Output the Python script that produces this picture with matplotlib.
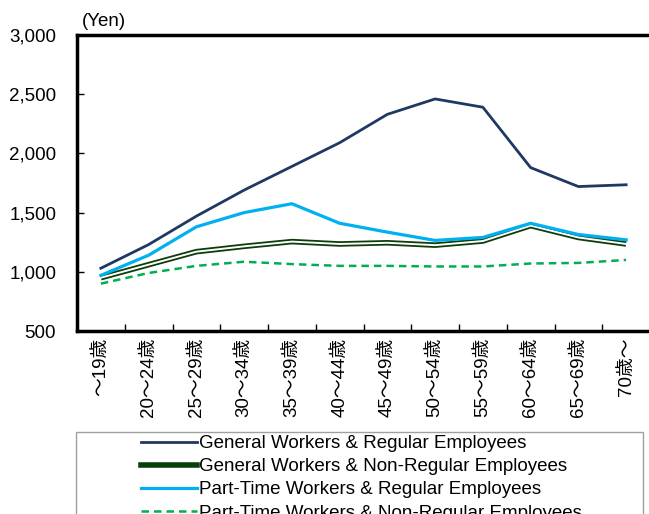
import matplotlib
matplotlib.use("Agg")
import matplotlib.pyplot as plt
from matplotlib.lines import Line2D
from matplotlib.patches import Rectangle

plt.rcParams['font.family'] = ['Liberation Sans', 'Noto Sans CJK JP', 'DejaVu Sans']

ages = ["～19歳", "20～24歳", "25～29歳", "30～34歳", "35～39歳", "40～44歳",
        "45～49歳", "50～54歳", "55～59歳", "60～64歳", "65～69歳", "70歳～"]

gen_regular = [1030, 1230, 1470, 1690, 1890, 2090, 2330, 2460, 2390, 1880, 1720, 1735]
gen_nonregular = [950, 1060, 1170, 1215, 1255, 1235, 1245, 1225, 1260, 1390, 1290, 1235]
pt_regular = [970, 1140, 1380, 1500, 1575, 1410, 1335, 1265, 1290, 1410, 1315, 1270]
pt_nonregular = [900, 990, 1050, 1085, 1065, 1050, 1050, 1045, 1045, 1070, 1075, 1100]

labels = ["General Workers & Regular Employees",
          "General Workers & Non-Regular Employees",
          "Part-Time Workers & Regular Employees",
          "Part-Time Workers & Non-Regular Employees"]

navy = "#1f3864"
dkgreen = "#0b3d0b"
ltblue = "#00b0f0"
green = "#00b050"

fig = plt.figure(figsize=(6.49, 5.14), dpi=100)
ax = fig.add_axes([77 / 649, 1 - 331 / 514, 573 / 649, 296 / 514])

x = range(len(ages))
ax.plot(x, gen_regular, color=navy, lw=2.0)
ax.plot(x, gen_nonregular, color=dkgreen, lw=4.0, solid_capstyle="butt")
ax.plot(x, gen_nonregular, color="white", lw=1.4)
ax.plot(x, pt_regular, color=ltblue, lw=2.3)
ax.plot(x, pt_nonregular, color=green, lw=1.8, ls=(0, (3, 2)))

ax.set_xlim(-0.5, len(ages) - 0.5)
ax.set_ylim(500, 3000)
ax.set_yticks(range(500, 3001, 500))
ax.set_yticklabels([f"{v:,}" for v in range(500, 3001, 500)], fontsize=13.5)
ax.set_xticks(list(x))
ax.set_xticklabels(ages, rotation=90, fontsize=13.5, va="top", ha="center")
ax.set_xticks([i + 0.5 for i in range(len(ages) - 1)], minor=True)
ax.tick_params(axis="x", which="major", length=0, pad=5)
ax.tick_params(axis="x", which="minor", direction="in", length=5, width=1)
ax.tick_params(axis="y", direction="in", length=5, width=1, pad=15)

for s in ["left", "bottom", "top"]:
    ax.spines[s].set_linewidth(2.5)
ax.spines["right"].set_visible(False)

fig.text(82 / 649, 1 - 22 / 514, "(Yen)", fontsize=13.5, va="center", ha="left")

handles = [
    Line2D([], [], color=navy, lw=2.0),
    Line2D([], [], color=dkgreen, lw=4.0),
    Line2D([], [], color=ltblue, lw=2.3),
    Line2D([], [], color=green, lw=1.8, ls=(0, (3, 2))),
]
fig.legend(handles, labels, loc="upper center", bbox_to_anchor=(361 / 649, 1 - 422 / 514),
           frameon=False, fontsize=13.5, handlelength=3.0, handletextpad=0.1,
           labelspacing=0.32, borderpad=0.2)
fig.patches.append(Rectangle((76 / 649, -0.1), (643 - 76) / 649, 0.1 + 1 - 432 / 514,
                             transform=fig.transFigure, fill=False,
                             edgecolor="#a0a0a0", lw=1.0))

fig.savefig("out.png", dpi=100)
